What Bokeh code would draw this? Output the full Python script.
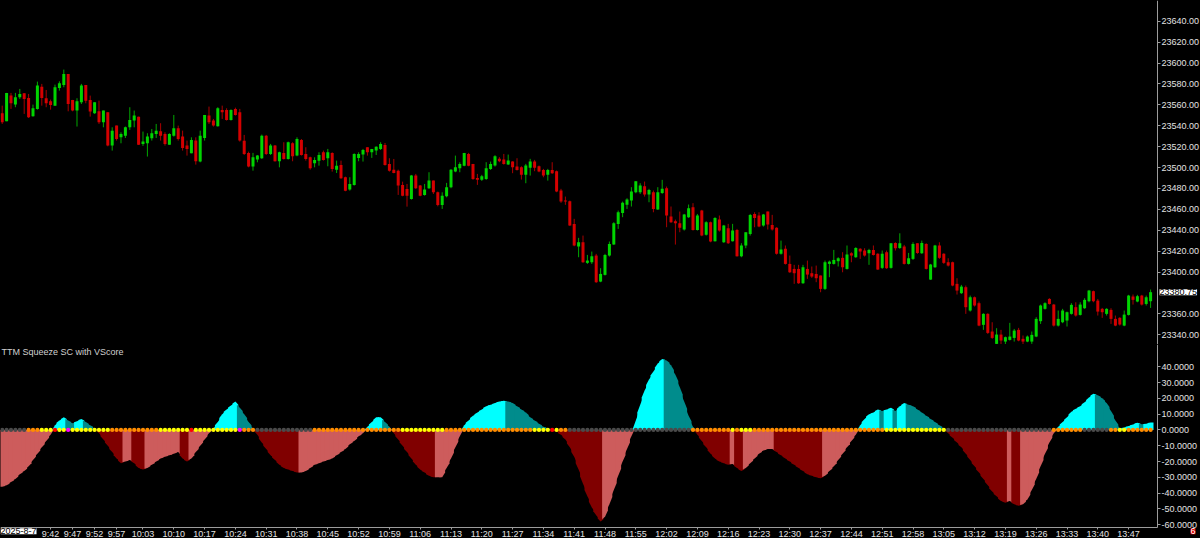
from bokeh.plotting import figure
from bokeh.layouts import column
from bokeh.models import (ColumnDataSource, Range1d, FixedTicker, Label, LinearAxis,
                          PrintfTickFormatter)
from bokeh.embed import file_html
from bokeh.resources import INLINE

# ---------------- price bars (OHLC) ----------------
open_ = [23551.9,23544.3,23568.8,23560.2,23567.2,23571.0,23566.6,23549.0,23556.1,23577.4,
         23566.3,23563.4,23559.2,23576.1,23579.0,23589.5,23564.7,23554.5,23562.4,23579.0,
         23564.7,23551.9,23553.8,23543.3,23552.9,23521.0,23540.1,23528.9,23530.5,23538.5,
         23544.9,23548.7,23522.6,23523.2,23528.0,23532.1,23534.7,23532.1,23521.9,23530.5,
         23537.6,23529.6,23521.0,23513.6,23525.8,23505.7,23528.3,23549.7,23544.9,23539.5,
         23555.1,23555.1,23545.5,23556.1,23552.9,23525.7,23514.0,23500.9,23507.6,23508.9,
         23530.5,23513.0,23521.0,23506.0,23514.0,23508.2,23523.2,23511.4,23526.4,23513.0,
         23509.8,23504.1,23506.6,23514.6,23508.9,23514.0,23498.0,23502.5,23490.7,23478.9,
         23483.3,23509.2,23512.4,23519.4,23514.6,23516.2,23517.8,23521.6,23503.4,23498.0,
         23497.0,23483.3,23479.5,23469.9,23492.3,23482.7,23473.8,23480.2,23487.5,23476.3,
         23464.2,23472.5,23481.1,23496.1,23499.3,23501.8,23513.0,23503.5,23490.1,23488.2,
         23489.1,23498.7,23501.9,23508.3,23507.6,23502.8,23505.7,23500.9,23500.3,23493.0,
         23499.7,23505.7,23501.2,23497.7,23493.0,23497.7,23496.5,23478.0,23468.4,23467.8,
         23446.1,23424.4,23428.5,23408.8,23409.4,23415.8,23390.9,23397.3,23415.8,23426.3,
         23446.1,23456.6,23464.3,23468.4,23476.4,23476.4,23482.1,23474.1,23476.4,23459.8,
         23475.7,23480.2,23453.1,23448.6,23446.7,23440.7,23452.5,23462.0,23440.3,23458.8,
         23435.6,23447.7,23429.5,23450.2,23428.5,23441.9,23429.5,23440.3,23415.1,23425.3,
         23436.5,23455.6,23454.1,23444.5,23457.9,23445.1,23442.3,23417.4,23422.2,23407.8,
         23403.0,23403.0,23389.3,23403.0,23398.9,23398.2,23396.7,23383.9,23407.8,23407.8,
         23410.4,23413.6,23403.0,23418.0,23414.2,23422.2,23420.6,23418.0,23421.2,23417.4,
         23404.0,23419.0,23404.0,23427.9,23423.1,23424.4,23407.8,23412.6,23427.6,23418.0,
         23426.9,23392.8,23404.6,23425.4,23417.4,23409.4,23409.4,23388.7,23379.8,23385.5,
         23363.2,23375.9,23370.2,23349.5,23360.0,23343.1,23331.3,23340.2,23333.5,23335.1,
         23337.0,23344.7,23336.1,23333.5,23333.5,23338.3,23353.0,23364.8,23374.3,23368.9,
         23348.8,23352.0,23353.6,23360.0,23366.4,23359.0,23365.4,23372.1,23381.7,23372.7,
         23364.8,23360.0,23363.8,23355.2,23356.2,23348.8,23359.0,23376.6,23371.8,23377.5,
         23369.5,23372.1]
high = [23559.2,23571.4,23571.4,23571.4,23575.2,23571.0,23570.4,23560.2,23582.2,23580.0,
        23574.2,23565.0,23579.3,23582.5,23593.7,23589.5,23564.7,23566.3,23580.0,23579.0,
        23568.8,23562.4,23564.0,23554.5,23552.9,23538.5,23540.1,23533.7,23539.2,23557.7,
        23554.5,23548.7,23534.4,23532.8,23536.9,23541.7,23542.4,23533.7,23532.8,23550.3,
        23540.1,23535.3,23525.8,23528.9,23528.9,23535.3,23550.3,23558.3,23546.5,23557.7,
        23559.2,23556.7,23555.7,23557.3,23556.1,23531.2,23515.2,23514.0,23512.0,23531.5,
        23531.2,23522.6,23521.6,23515.2,23524.2,23524.8,23524.2,23528.9,23527.3,23519.4,
        23510.4,23509.8,23514.6,23516.2,23517.8,23514.6,23506.6,23506.6,23491.3,23490.7,
        23513.6,23514.6,23517.8,23519.4,23517.8,23520.3,23524.2,23523.5,23508.9,23508.2,
        23498.0,23486.5,23484.3,23492.9,23493.9,23483.3,23484.3,23495.5,23487.5,23477.0,
        23476.3,23485.3,23498.6,23511.4,23505.0,23514.0,23514.0,23503.5,23493.9,23493.0,
        23505.1,23505.7,23511.8,23509.9,23513.0,23512.4,23506.0,23508.9,23501.2,23503.5,
        23508.3,23507.3,23501.9,23498.7,23498.7,23505.1,23497.1,23479.6,23472.2,23468.4,
        23450.9,23432.7,23434.9,23416.4,23419.6,23417.4,23403.7,23417.4,23429.2,23447.7,
        23458.8,23467.4,23470.6,23481.2,23486.9,23485.0,23486.6,23479.6,23478.0,23481.2,
        23488.2,23481.8,23462.7,23450.2,23457.9,23455.6,23464.6,23465.9,23455.6,23459.5,
        23448.6,23448.3,23452.5,23454.1,23445.1,23446.1,23446.1,23441.3,23427.6,23438.1,
        23455.6,23457.2,23457.2,23455.6,23457.9,23454.7,23442.9,23430.1,23425.4,23415.8,
        23406.9,23406.9,23406.9,23411.0,23405.3,23406.2,23396.7,23411.0,23411.0,23421.2,
        23414.2,23419.0,23425.4,23419.0,23423.8,23422.8,23422.8,23422.2,23425.4,23418.0,
        23420.6,23420.6,23427.6,23428.5,23437.1,23426.0,23418.3,23428.5,23427.6,23430.1,
        23427.6,23407.8,23426.0,23428.5,23418.0,23413.2,23410.0,23394.1,23387.7,23387.1,
        23377.5,23376.6,23371.8,23360.6,23360.6,23352.0,23346.3,23344.7,23338.3,23351.4,
        23345.6,23346.6,23339.3,23339.3,23343.1,23356.8,23368.9,23371.1,23375.0,23369.5,
        23363.2,23364.8,23362.2,23370.2,23371.1,23371.1,23375.0,23382.9,23382.3,23374.3,
        23365.7,23365.4,23365.4,23358.4,23356.8,23363.2,23378.2,23378.5,23378.2,23378.2,
        23377.5,23383.3]
low = [23541.7,23544.3,23556.1,23557.7,23565.6,23551.3,23547.4,23548.7,23555.4,23559.2,
       23557.7,23555.4,23559.2,23573.6,23576.8,23553.8,23553.8,23539.2,23560.8,23561.5,
       23548.7,23551.3,23541.7,23538.5,23520.3,23516.2,23525.8,23523.2,23528.3,23536.0,
       23538.5,23521.6,23520.7,23510.5,23525.8,23528.3,23525.8,23521.0,23521.9,23529.6,
       23525.8,23516.2,23511.4,23513.6,23502.8,23505.0,23525.8,23541.7,23539.2,23539.2,
       23546.5,23544.9,23544.9,23549.7,23524.8,23512.0,23500.2,23497.0,23505.0,23508.2,
       23512.0,23512.0,23505.7,23500.2,23507.6,23507.6,23506.0,23510.8,23511.4,23506.6,
       23498.0,23500.2,23501.8,23506.6,23501.2,23496.1,23494.8,23489.1,23477.3,23477.9,
       23482.7,23506.0,23505.7,23511.4,23509.2,23512.0,23516.8,23501.8,23496.1,23494.5,
       23473.8,23472.5,23462.6,23469.3,23479.5,23472.5,23473.1,23479.5,23474.7,23462.9,
       23460.4,23471.5,23480.2,23495.5,23495.5,23501.2,23501.2,23488.2,23483.4,23487.2,
       23488.2,23497.7,23500.9,23505.1,23502.8,23502.5,23494.6,23497.1,23488.5,23485.0,
       23492.3,23496.5,23495.5,23490.7,23487.5,23493.9,23476.4,23466.2,23464.3,23444.2,
       23424.7,23414.2,23408.8,23407.8,23407.8,23389.6,23390.3,23396.7,23414.8,23426.0,
       23441.3,23452.5,23460.4,23462.7,23475.4,23474.8,23472.2,23466.8,23457.2,23459.5,
       23474.8,23442.9,23447.0,23426.3,23438.1,23439.7,23451.8,23439.7,23439.7,23434.3,
       23434.9,23428.5,23429.2,23438.7,23427.9,23426.9,23429.2,23414.8,23414.2,23422.8,
       23434.9,23442.9,23442.9,23443.5,23440.7,23439.7,23416.7,23416.7,23407.2,23399.2,
       23388.7,23388.7,23388.7,23393.5,23394.4,23390.3,23380.7,23382.9,23395.1,23407.2,
       23405.3,23399.8,23402.4,23409.4,23413.6,23412.6,23414.8,23406.9,23415.8,23402.1,
       23403.0,23403.0,23403.3,23420.6,23422.2,23407.2,23407.2,23411.6,23417.4,23417.4,
       23402.4,23392.5,23404.0,23412.6,23407.8,23405.3,23386.4,23378.5,23379.1,23360.0,
       23362.2,23367.0,23348.2,23344.7,23340.8,23336.1,23330.6,23330.6,23329.7,23334.5,
       23333.5,23333.8,23329.0,23332.9,23331.3,23337.7,23350.4,23364.1,23368.9,23347.9,
       23347.9,23351.1,23347.9,23359.3,23357.4,23358.4,23364.8,23371.1,23371.1,23358.4,
       23356.2,23358.4,23350.4,23348.2,23348.8,23348.2,23358.4,23368.9,23371.1,23368.0,
       23368.0,23365.7]
close = [23543.3,23571.4,23561.5,23567.2,23570.4,23565.6,23548.1,23556.7,23578.4,23566.6,
         23561.5,23559.9,23576.8,23580.6,23589.5,23560.8,23554.5,23563.4,23578.4,23564.0,
         23553.5,23562.4,23543.3,23554.5,23521.0,23535.3,23527.4,23532.1,23538.5,23545.5,
         23549.7,23521.9,23524.8,23529.6,23532.8,23535.3,23530.5,23522.6,23532.1,23537.6,
         23527.4,23518.7,23517.8,23526.4,23506.0,23530.5,23550.3,23543.3,23540.1,23556.7,
         23552.9,23545.5,23555.1,23550.3,23525.8,23513.0,23500.9,23509.8,23511.4,23530.5,
         23513.0,23521.0,23506.0,23514.6,23508.2,23524.2,23510.8,23527.3,23512.0,23508.2,
         23499.3,23507.3,23512.0,23507.3,23514.6,23498.6,23501.8,23489.7,23477.9,23484.3,
         23513.0,23513.0,23516.8,23514.6,23517.8,23520.0,23522.6,23502.5,23497.0,23494.8,
         23482.7,23473.1,23473.1,23492.3,23480.2,23473.1,23478.9,23487.5,23476.3,23464.2,
         23473.1,23481.1,23498.0,23500.2,23503.4,23514.0,23501.8,23489.1,23488.2,23491.7,
         23499.3,23503.5,23510.8,23506.0,23503.5,23506.7,23500.3,23497.7,23493.0,23501.9,
         23505.7,23499.7,23496.1,23492.3,23497.7,23494.6,23477.0,23467.4,23467.4,23444.5,
         23425.4,23428.5,23409.4,23411.0,23415.1,23390.3,23398.2,23416.4,23426.9,23446.7,
         23457.2,23466.2,23469.4,23477.0,23486.9,23482.8,23474.1,23478.6,23460.4,23476.4,
         23479.6,23454.1,23447.7,23446.7,23442.3,23455.0,23461.1,23440.3,23454.1,23434.9,
         23447.7,23429.2,23451.8,23439.7,23444.5,23427.6,23439.7,23415.1,23425.3,23438.1,
         23454.7,23451.8,23443.5,23455.0,23445.4,23440.7,23417.4,23421.5,23407.8,23399.8,
         23398.9,23389.3,23404.6,23397.6,23395.7,23394.1,23383.9,23409.4,23410.0,23411.6,
         23413.2,23404.6,23416.7,23415.8,23423.1,23419.6,23415.8,23421.2,23416.4,23402.4,
         23417.4,23403.7,23427.6,23422.8,23427.6,23407.8,23413.2,23426.9,23418.3,23427.9,
         23403.0,23407.2,23425.4,23413.6,23408.8,23406.2,23387.1,23382.3,23386.1,23366.4,
         23375.9,23368.0,23348.8,23360.0,23341.8,23337.0,23340.2,23334.5,23337.7,23338.3,
         23344.0,23334.5,23333.5,23338.3,23339.9,23355.2,23368.0,23370.2,23369.5,23348.8,
         23355.2,23363.2,23361.6,23368.6,23358.4,23368.9,23373.4,23382.3,23372.1,23362.2,
         23361.6,23364.8,23355.2,23348.8,23349.8,23359.3,23377.5,23373.4,23376.9,23368.9,
         23375.9,23380.75]

# ---------------- TTM squeeze histogram (one value per bar) ----------------
squeeze_hist = [
    -36, -35, -33, -31, -28, -26, -23, -19, -15, -11, -7, -3,
    3, 6, 8, 6, 4.2, 5.5, 7, 5, 3, 1,
    -2, -6, -10, -14, -18, -21, -20, -19, -21, -24, -25, -24, -22, -20, -18, -17, -16, -15, -14, -18,
    -20, -18, -14, -10, -6, -2,
    1, 5, 10, 13, 15.5, 18, 14, 10, 5, 1,
    -3, -8, -12, -16, -19, -22, -24, -25, -26, -27, -27, -26, -24, -22, -21, -20, -19, -18, -16, -14,
    -12, -9, -7, -4, -2,
    2, 5, 8, 8, 5, 2,
    -2, -6, -10, -14, -18, -22, -25, -27, -29, -30, -30, -30, -24, -18, -11, -4,
    3, 6, 9, 11, 13, 15, 16, 17, 18, 18.5, 18, 17, 15, 13, 11, 8, 6, 4, 2,
    1, -0.5, -1, -3, -6, -11, -17, -25, -34, -42, -49, -54, -58, -55, -47, -38, -29, -20, -12, -4,
    6, 16, 25, 32, 37, 42, 45, 44, 41, 35, 27, 18, 9, 2,
    -3, -7, -11, -15, -18, -20, -21, -22, -21.5, -24, -26, -24, -21, -18, -15, -13, -12, -12, -14, -16,
    -18, -20, -22, -24, -26, -28, -29, -30, -30.5, -29, -26, -23, -19, -15, -11, -7, -3,
    3, 7, 10, 11, 13, 12, 13, 14, 12, 15, 17, 16, 15, 13, 11, 9, 7, 5, 3, 1,
    -2, -5, -8, -11, -15, -19, -23, -27, -31, -35, -39, -42, -45, -46, -45, -47, -48, -47, -44, -38,
    -31, -23, -15, -8, -2,
    2, 5, 8, 11.5, 13.5, 15, 17.5, 20.5, 23, 22, 20, 17, 12, 6, 1,
    1.5, 2.5, 3.5, 4.6, 3.6, 4, 4.8]

# squeeze state per bar: G=no squeeze, O=medium, Y=high, R=low, M=pink
squeeze_state = ("G" * 6 + "O" * 3 + "Y" * 3 + "R" + "Y" * 2 + "M" + "Y" * 9 + "O" * 11 + "Y" * 7 + "R"
                 + "Y" * 10 + "M" + "O" * 3 + "G" * 13 + "O" * 20 + "Y" * 10 + "O" * 20
                 + "Y" * 4 + "R" + "Y" + "O" * 2 + "G" * 28 + "O" * 9 + "Y" + "O" + "Y" * 3
                 + "O" * 30 + "Y" * 14 + "G" * 24 + "O" * 7 + "G" * 6 + "O" * 2 + "Y" * 2 + "O" * 6)

# ---------------- axis labels ----------------
price_ticks = [23340, 23360, 23400, 23420, 23440, 23460, 23480, 23500, 23520, 23540,
               23560, 23580, 23600, 23620, 23640]
osc_ticks = [40, 30, 20, 10, 0, -10, -20, -30, -40, -50, -60]
time_tick_bars = [11, 16, 21, 26, 32, 39, 46, 53, 60, 67, 74, 81, 88, 95, 102, 109, 116, 123,
                  130, 137, 144, 151, 158, 165, 172, 179, 186, 193, 200, 207, 214, 221, 228,
                  235, 242, 249, 256]
time_tick_labels = ["9:42", "9:47", "9:52", "9:57", "10:03", "10:10", "10:17", "10:24", "10:31",
                    "10:38", "10:45", "10:52", "10:59", "11:06", "11:13", "11:20", "11:27", "11:34",
                    "11:41", "11:48", "11:55", "12:02", "12:09", "12:16", "12:23", "12:30", "12:37",
                    "12:44", "12:51", "12:58", "13:05", "13:12", "13:19", "13:26", "13:33", "13:40",
                    "13:47"]
date_label = "2025-8-7"
last_price = 23380.75
indicator_title = "TTM Squeeze SC with VScore"

# ---------------- derived drawing columns ----------------
N = len(close)
xs = list(range(N))
GREEN, RED = "#00D400", "#D40000"
body_top, body_bot, body_col, wick_col = [], [], [], []
for o, c in zip(open_, close):
    t, b = max(o, c), min(o, c)
    if t - b < 0.8:
        m = (t + b) / 2
        t, b = m + 0.4, m - 0.4
    body_top.append(t)
    body_bot.append(b)
    up = c >= o
    body_col.append(GREEN if up else RED)
    wick_col.append("#00A800" if up else "#A80000")

# histogram colour from sign and direction (TTM rule)
hist_col = []
for i, v in enumerate(squeeze_hist):
    pv = squeeze_hist[i - 1] if i > 0 else v
    if v >= 0:
        hist_col.append("#00FFFF" if v >= pv else "#008C8C")
    else:
        hist_col.append("#800000" if v < pv else "#CD5C5C")

# each histogram bar drawn as a column whose top edge joins its neighbours' edges
HALF = 0.66  # overlap so neighbouring columns leave no anti-aliasing seam
hx, hy = [], []
for i, v in enumerate(squeeze_hist):
    vl = (squeeze_hist[i - 1] + v) / 2 if i > 0 else v
    vr = (squeeze_hist[i + 1] + v) / 2 if i < N - 1 else v
    if vl * v < 0:
        vl = 0
    if vr * v < 0:
        vr = 0
    hx.append([i - HALF, i - HALF, i, i + HALF, i + HALF])
    hy.append([0, vl, v, vr, 0])

state_colors = {"G": "#4A4A4A", "O": "#FF8C00", "Y": "#FFFF00", "R": "#FF0000", "M": "#FF00FF"}
dot_col = [state_colors[s] for s in squeeze_state]

price_src = ColumnDataSource(dict(x=xs, high=high, low=low, top=body_top, bottom=body_bot,
                                  color=body_col, wick=wick_col))
hist_src = ColumnDataSource(dict(xs=hx, ys=hy, color=hist_col))
dot_src = ColumnDataSource(dict(x=xs, zero=[0] * N, dot=dot_col))

# ---------------- layout constants ----------------
FONT = "Liberation Sans"
AX_COL = "#9C9C9C"
LBL_COL = "#E2E2E2"
X_LO, X_HI = -0.386, 272.34          # whole page width in bar units
X_AXIS = 262.57                      # bar coordinate of the vertical price/osc axis
OSC_HI, OSC_LO = 54.1, -68.7
OSC_AXIS = -61.6                     # oscillator value where the time axis sits

xr = Range1d(X_LO, X_HI)


def style_axis(ax):
    ax.axis_line_color = AX_COL
    ax.major_tick_line_color = AX_COL
    ax.minor_tick_line_color = None
    ax.major_tick_out = 3
    ax.major_tick_in = 0
    ax.major_label_standoff = 1
    ax.major_label_text_color = LBL_COL
    ax.major_label_text_font = FONT
    ax.major_label_text_font_size = "9px"


def base_fig(height, yr):
    f = figure(width=1200, height=height, x_range=xr, y_range=yr, output_backend="svg",
               toolbar_location=None, background_fill_color="black",
               border_fill_color="black", outline_line_color=None, min_border=0,
               x_axis_location=None, y_axis_location=None)
    f.grid.visible = False
    return f


# ---------------- price pane ----------------
p1 = base_fig(344, Range1d(23330.7, 23659.8))
pax = LinearAxis(fixed_location=X_AXIS, ticker=FixedTicker(ticks=price_ticks),
                 formatter=PrintfTickFormatter(format="%.2f"))
style_axis(pax)
p1.add_layout(pax, "right")

p1.segment(x0="x", y0="high", x1="x", y1="low", line_color="wick", line_width=1, source=price_src)
p1.vbar(x="x", width=0.68, top="top", bottom="bottom", fill_color="color", line_color=None,
        source=price_src)

p1.add_layout(Label(x=X_AXIS, y=last_price, x_offset=2, text=f"{last_price:.2f}",
                    text_color="black", text_font=FONT, text_font_size="9px",
                    text_baseline="middle", text_align="left", background_fill_color="white"))

# ---------------- squeeze pane ----------------
p2 = base_fig(194, Range1d(OSC_LO, OSC_HI))
oax = LinearAxis(fixed_location=X_AXIS, bounds=(OSC_AXIS, OSC_HI),
                 ticker=FixedTicker(ticks=osc_ticks), formatter=PrintfTickFormatter(format="%.4f"))
style_axis(oax)
p2.add_layout(oax, "right")
tax = LinearAxis(fixed_location=OSC_AXIS, bounds=(X_LO, X_AXIS),
                 ticker=FixedTicker(ticks=time_tick_bars),
                 major_label_overrides={b: t for b, t in zip(time_tick_bars, time_tick_labels)})
style_axis(tax)
tax.major_tick_out = 2
tax.major_label_standoff = 0
p2.add_layout(tax, "below")

p2.patches(xs="xs", ys="ys", fill_color="color", line_color=None, source=hist_src)
p2.scatter(x="x", y="zero", size=4.3, fill_color="dot", line_color=None, source=dot_src)

p2.add_layout(Label(x=1, y=192, x_units="screen", y_units="screen", text=indicator_title,
                    text_color="#D0D0D0", text_font=FONT, text_font_size="9px",
                    text_baseline="top", text_align="left"))
p2.add_layout(Label(x=X_LO, y=OSC_AXIS, y_offset=-1, text=date_label,
                    text_color="black", text_font=FONT, text_font_size="9px",
                    text_baseline="top", text_align="left", background_fill_color="white"))
p2.add_layout(Label(x=X_AXIS, x_offset=33, y=OSC_AXIS, y_offset=-1, text="6",
                    text_color="white", text_font=FONT, text_font_size="9px",
                    text_baseline="top", text_align="left", background_fill_color="#E00000"))

layout = column(p1, p2, spacing=0, background="black")
open("out.html", "w").write(file_html(layout, INLINE))
